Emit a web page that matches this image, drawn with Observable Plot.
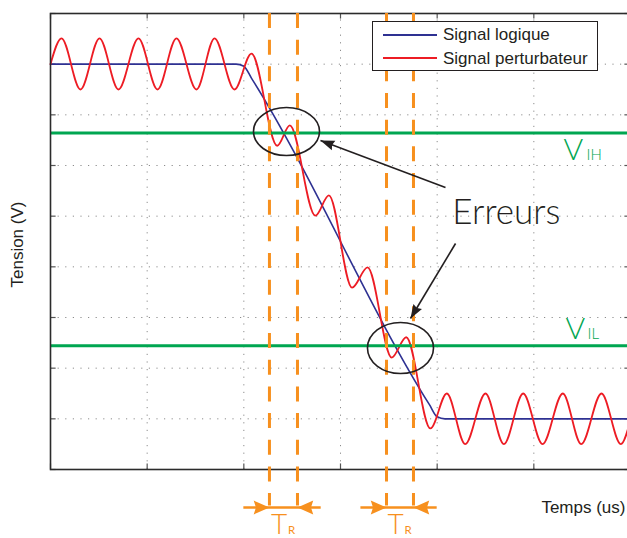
<!DOCTYPE html>
<html>
<head>
<meta charset="utf-8">
<script src="https://cdn.jsdelivr.net/npm/d3@7"></script>
<script src="https://cdn.jsdelivr.net/npm/@observablehq/plot@0.6"></script>
<style>
  html, body { margin: 0; padding: 0; background: #fff; }
  #wrap { position: relative; width: 627px; height: 538px; overflow: hidden; }
  #legend { position: absolute; left: 372px; top: 21px; width: 226px; height: 50px; box-sizing: border-box;
    border: 1px solid #231f20; background: #fff; font-family: "Liberation Sans", Arial, sans-serif;
    font-size: 17px; color: #231f20; }
  #legend .ln { position: absolute; left: 10px; width: 54px; height: 1.6px; }
  #legend .tx { position: absolute; left: 70px; line-height: 20px; white-space: nowrap; }
</style>
</head>
<body>
<div id="wrap"></div>
<script>
// ---------- data ----------
const xTicks = [0, 1, 2, 3, 4, 5, 6];
const yTicks = [0, 1, 2, 3, 4, 5, 6, 7, 8, 9];

// logic signal (blue)
const logicX = [0, 1.92, 2.0, 2.08, 3.92, 4.0, 4.08, 6];
const logicY = [8, 8, 7.96, 7.72, 1.28, 1.04, 1, 1];

// disturbing signal (red) : start point then successive peaks / troughs
const noiseX = [0, 0.114, 0.310, 0.507, 0.703, 0.910, 1.107, 1.303, 1.510, 1.697, 1.903,
  2.079, 2.345, 2.476, 2.74, 2.88, 3.12, 3.28, 3.53, 3.68, 3.93,
  4.10, 4.29, 4.50, 4.69, 4.89, 5.09, 5.30, 5.49, 5.70, 5.90, 6.0];
const noiseY = [8, 8.51, 7.50, 8.51, 7.50, 8.51, 7.50, 8.51, 7.50, 8.51, 7.50,
  8.21, 6.39, 6.79, 5.01, 5.41, 3.59, 3.99, 2.21, 2.61, 0.81,
  1.5, 0.5, 1.5, 0.5, 1.5, 0.5, 1.5, 0.5, 1.5, 0.5, 0.98];

// thresholds
const thresholdNames = ["IH", "IL"];
const thresholdValues = [6.64, 2.44];

// rise-time windows (orange dashed lines)
const trStart = [2.265, 3.476];
const trEnd = [2.555, 3.755];

// error ellipses: left, top, right, bottom points
const ellipseId = ["e1", "e1", "e1", "e1", "e2", "e2", "e2", "e2"];
const ellipseX = [2.100, 2.441, 2.783, 2.441, 3.279, 3.621, 3.962, 3.621];
const ellipseY = [6.671, 7.144, 6.671, 6.197, 2.398, 2.901, 2.398, 1.895];

// "Erreurs" arrows (from -> to)
const errFromX = [4.086, 4.19];
const errFromY = [5.565, 4.46];
const errToX = [2.793, 3.724];
const errToY = [6.493, 2.98];

// ---------- layout ----------
const W = 630, H = 538, mL = 50, mR = 0, mT = 13, mB = 69;
const xDomain = [0, 6], yDomain = [0, 9];
const sx = Plot.scale({x: {domain: xDomain, range: [mL, W - mR]}});
const sy = Plot.scale({y: {domain: yDomain, range: [H - mB, mT]}});
const angle = (x1, y1, x2, y2) =>
  Math.atan2(sy.apply(y2) - sy.apply(y1), sx.apply(x2) - sx.apply(x1)) * 180 / Math.PI;

const ORANGE = "#f7901e", GREEN = "#00a651", RED = "#ed1c24", BLUE = "#2e3192", INK = "#231f20";

const logic = logicX.map((x, i) => ({x, y: logicY[i]}));
const noise = noiseX.map((x, i) => ({x, y: noiseY[i]}));
const ellipses = ellipseX.map((x, i) => ({id: ellipseId[i], x, y: ellipseY[i]}));
const errArrows = errFromX.map((x, i) => ({x1: x, y1: errFromY[i], x2: errToX[i], y2: errToY[i]}));

const yArrow = -0.75;     // level of the T_R arrows (below the frame)
const yDashEnd = -0.72;
const yTR = -1.28;
const trLines = trStart.map((s, i) => ({x1: s - 0.27, x2: trEnd[i] + 0.24}));
const trHeads = trStart.flatMap((s, i) => [
  {x: s, y: yArrow, rot: 0},
  {x: trEnd[i], y: yArrow, rot: 180}
]);
const trLabels = trStart.map((s, i) => ({x: (s + trEnd[i]) / 2}));

function headSymbol(len, half, notch) {
  return {
    draw(ctx, size) {
      const r = Math.sqrt(size / Math.PI);
      ctx.moveTo(0, 0);
      ctx.lineTo(-len * r, -half * r);
      ctx.lineTo(-notch * r, 0);
      ctx.lineTo(-len * r, half * r);
      ctx.closePath();
    }
  };
}
const orangeHead = headSymbol(3.5, 1.55, 3.0);
const blackHead = headSymbol(3.5, 1.25, 3.1);

const textFont = "'Liberation Sans', Arial, sans-serif";
const bigFont = "Lato, 'Open Sans', sans-serif";

const plot = Plot.plot({
  width: W, height: H,
  marginLeft: mL, marginRight: mR, marginTop: mT, marginBottom: mB,
  x: {domain: xDomain, axis: null},
  y: {domain: yDomain, axis: null},
  style: {maxWidth: "none", background: "white", overflow: "visible"},
  marks: [
    // dotted grid
    Plot.ruleX(xTicks.slice(1, -1), {y1: 0, y2: 9, stroke: "#8c8c8c", strokeWidth: 1, strokeDasharray: "1.2,6.4"}),
    Plot.ruleY(yTicks.slice(1, -1), {x1: 0, x2: 6, stroke: "#8c8c8c", strokeWidth: 1, strokeDasharray: "1.2,6.4"}),
    // inner ticks on the four sides
    Plot.ruleY(yTicks, {x1: 0, x2: 0.058, stroke: "#555", strokeWidth: 1.2}),
    Plot.ruleY(yTicks, {x1: 5.942, x2: 6, stroke: "#555", strokeWidth: 1.2}),
    Plot.ruleX(xTicks, {y1: 0, y2: 0.11, stroke: "#555", strokeWidth: 1.2}),
    Plot.ruleX(xTicks, {y1: 8.89, y2: 9, stroke: "#555", strokeWidth: 1.2}),
    // signals
    Plot.line(logic, {x: "x", y: "y", stroke: BLUE, strokeWidth: 1.6, curve: "monotone-x"}),
    Plot.line(noise, {x: "x", y: "y", stroke: RED, strokeWidth: 1.8, curve: "monotone-x"}),
    // thresholds
    Plot.ruleY(thresholdValues, {stroke: GREEN, strokeWidth: 3}),
    // frame
    Plot.frame({stroke: "#2b2b2b", strokeWidth: 1.6}),
    // rise-time dashed lines
    Plot.ruleX(trStart.concat(trEnd), {y1: 9, y2: yDashEnd, stroke: ORANGE, strokeWidth: 3, strokeDasharray: "15,11.67"}),
    // error ellipses
    Plot.line(ellipses, {x: "x", y: "y", z: "id", curve: "cardinal-closed", tension: -0.657, stroke: INK, strokeWidth: 1.6, fill: "none"}),
    // error arrows
    Plot.link(errArrows, {x1: "x1", y1: "y1", x2: "x2", y2: "y2", stroke: INK, strokeWidth: 1.6}),
    Plot.dot(errArrows, {x: "x2", y: "y2", r: 4, symbol: blackHead, fill: INK, stroke: "none",
      rotate: d => angle(d.x1, d.y1, d.x2, d.y2)}),
    // T_R arrows
    Plot.link(trLines, {x1: "x1", x2: "x2", y1: yArrow, y2: yArrow, stroke: ORANGE, strokeWidth: 2.5}),
    Plot.dot(trHeads, {x: "x", y: "y", r: 4.5, symbol: orangeHead, fill: ORANGE, stroke: "none", rotate: "rot"}),
    Plot.text(trLabels, {x: d => d.x - 0.045, y: yTR, text: () => "T", fontFamily: bigFont, fontWeight: 300, fontSize: 28,
      fill: ORANGE, textAnchor: "middle", lineAnchor: "bottom"}),
    Plot.text(trLabels, {x: d => d.x + 0.085, y: yTR, text: () => "R", fontFamily: bigFont, fontWeight: 400, fontSize: 11.5,
      fill: ORANGE, textAnchor: "middle", lineAnchor: "bottom"}),
    // threshold labels
    Plot.text(thresholdValues, {x: [5.307, 5.327], y: [6.118, 2.585], text: () => "V", fontFamily: bigFont, fontWeight: 300,
      fontSize: 30, fill: GREEN, textAnchor: "start", lineAnchor: "bottom"}),
    Plot.text(thresholdNames, {x: [5.545, 5.555], y: [6.118, 2.585], text: d => d, fontFamily: bigFont, fontWeight: 300,
      fontSize: 15, fill: GREEN, textAnchor: "start", lineAnchor: "bottom"}),
    // Erreurs
    Plot.text(["Erreurs"], {x: 4.157, y: 4.855, text: d => d, fontFamily: bigFont, fontWeight: 300, fontSize: 35,
      fill: INK, textAnchor: "start", lineAnchor: "bottom"}),
    // axis labels
    Plot.text(["Temps (us)"], {x: 5.948, y: -0.849, text: d => d, fontFamily: textFont, fontSize: 17,
      fill: INK, textAnchor: "end", lineAnchor: "bottom"}),
    Plot.text(["Tension (V)"], {x: -0.341, y: 4.44, text: d => d, fontFamily: textFont, fontSize: 17,
      fill: INK, textAnchor: "middle", lineAnchor: "middle", rotate: -90})
  ]
});

const wrap = document.getElementById("wrap");
wrap.appendChild(plot);

// legend inside the plot area
const legend = document.createElement("div");
legend.id = "legend";
const items = [["Signal logique", BLUE, 12.3, 3], ["Signal perturbateur", RED, 35.3, 27]];
for (const [label, color, lineTop, textTop] of items) {
  const ln = document.createElement("div");
  ln.className = "ln"; ln.style.background = color; ln.style.top = lineTop + "px";
  const tx = document.createElement("div");
  tx.className = "tx"; tx.textContent = label; tx.style.top = textTop + "px";
  legend.appendChild(ln); legend.appendChild(tx);
}
wrap.appendChild(legend);
</script>
</body>
</html>
